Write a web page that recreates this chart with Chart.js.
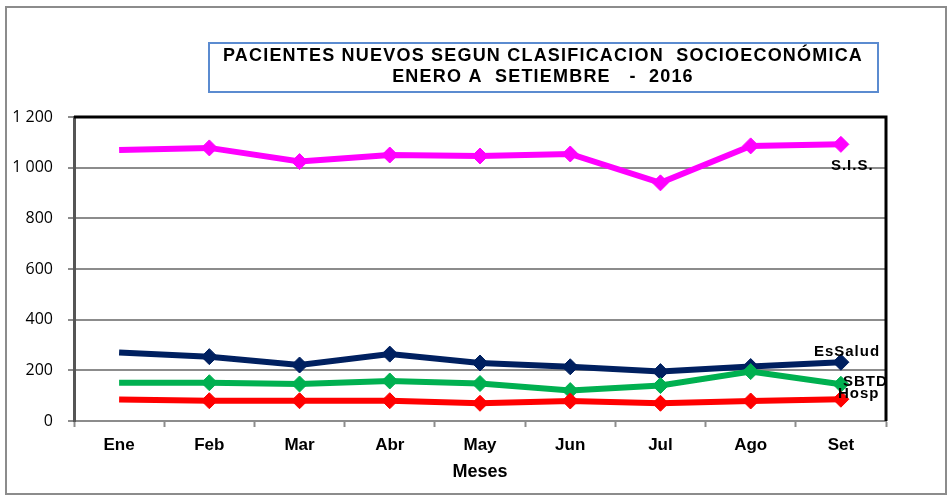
<!DOCTYPE html>
<html>
<head>
<meta charset="utf-8">
<script src="https://cdn.jsdelivr.net/npm/chart.js@4/dist/chart.umd.min.js"></script>
<style>
  body { margin: 0; background: #fff; }
  canvas { display: block; }
</style>
</head>
<body>
<canvas id="myChart" width="949" height="496"></canvas>
<script>
const meses = ['Ene', 'Feb', 'Mar', 'Abr', 'May', 'Jun', 'Jul', 'Ago', 'Set'];
const sis = [1070, 1078, 1024, 1050, 1046, 1054, 940, 1086, 1092];
const essalud = [270, 254, 221, 264, 229, 214, 195, 215, 232];
const sbtd = [151, 151, 146, 158, 148, 120, 140, 195, 145];
const hosp = [85, 80, 80, 80, 70, 79, 70, 79, 86];
const yTicks = [0, 200, 400, 600, 800, 1000, 1200];

// marker on every month but the first
const radios = meses.map((m, i) => i === 0 ? 0 : 8);

function serie(label, data, color, dx, dy) {
    return {
        label: label,
        data: data,
        borderColor: color,
        backgroundColor: color,
        borderWidth: 6,
        pointStyle: 'rectRot',
        pointRadius: radios,
        pointBorderWidth: 1,
        tension: 0,
        endLabel: { dx: dx, dy: dy }
    };
}

const framePlugin = {
    id: 'frame',
    beforeDraw(chart) {
        const ctx = chart.ctx;
        ctx.save();
        ctx.fillStyle = '#fff';
        ctx.fillRect(0, 0, chart.width, chart.height);
        ctx.strokeStyle = '#8c8c8c';
        ctx.lineWidth = 2;
        ctx.strokeRect(6, 7, 940, 487);
        // title box
        ctx.strokeStyle = '#5b8bd0';
        ctx.lineWidth = 2;
        ctx.strokeRect(209, 43, 669, 49);
        ctx.fillStyle = '#000';
        ctx.font = 'bold 18px "Liberation Sans", Arial, sans-serif';
        ctx.letterSpacing = '1.2px';
        ctx.textAlign = 'center';
        ctx.textBaseline = 'middle';
        ctx.fillText('PACIENTES NUEVOS SEGUN CLASIFICACION  SOCIOECONÓMICA', 543, 56);
        ctx.fillText('ENERO A  SETIEMBRE   -  2016', 543, 77);
        ctx.restore();
    },
    afterDatasetsDraw(chart) {
        const ctx = chart.ctx;
        const a = chart.chartArea;
        ctx.save();
        ctx.beginPath();
        ctx.rect(a.left, a.top, a.right - a.left, a.bottom - a.top);
        ctx.clip();
        ctx.fillStyle = '#000';
        ctx.font = 'bold 15px "Liberation Sans", Arial, sans-serif';
        ctx.letterSpacing = '1px';
        ctx.textAlign = 'left';
        ctx.textBaseline = 'middle';
        chart.data.datasets.forEach((ds, i) => {
            const pts = chart.getDatasetMeta(i).data;
            const p = pts[pts.length - 1];
            ctx.fillText(ds.label, p.x + ds.endLabel.dx, p.y + ds.endLabel.dy);
        });
        ctx.restore();
        // black border top and right
        ctx.save();
        ctx.strokeStyle = '#000';
        ctx.lineWidth = 3;
        ctx.beginPath();
        ctx.moveTo(a.left, a.top);
        ctx.lineTo(a.right, a.top);
        ctx.lineTo(a.right, a.bottom);
        ctx.stroke();
        ctx.restore();
    }
};

const ctx = document.getElementById('myChart').getContext('2d');
const myChart = new Chart(ctx, {
    type: 'line',
    data: {
        labels: meses,
        datasets: [
            serie('Hosp', hosp, '#ff0000', -3, -5),
            serie('SBTD', sbtd, '#00b050', 2, -2),
            serie('EsSalud', essalud, '#002060', -27, -10),
            serie('S.I.S.', sis, '#ff00ff', -10, 21)
        ]
    },
    options: {
        responsive: false,
        animation: false,
        layout: { padding: { left: 5, top: 117, right: 63, bottom: 13 } },
        plugins: {
            legend: { display: false },
            title: { display: false },
            tooltip: { enabled: false }
        },
        scales: {
            x: {
                offset: true,
                grid: {
                    offset: true,
                    drawOnChartArea: false,
                    drawTicks: true,
                    tickLength: 6,
                    tickWidth: 2,
                    tickColor: '#8c8c8c'
                },
                border: { color: '#8c8c8c', width: 2 },
                ticks: {
                    color: '#000',
                    padding: 8,
                    maxRotation: 0,
                    font: { family: '"Liberation Sans", Arial, sans-serif', size: 17, weight: 'bold' }
                },
                title: {
                    display: true,
                    text: 'Meses',
                    color: '#000',
                    padding: { top: 4, bottom: 0 },
                    font: { family: '"Liberation Sans", Arial, sans-serif', size: 18, weight: 'bold' }
                },
                afterFit(scale) { scale.height = 62; }
            },
            y: {
                min: 0,
                max: 1200,
                afterBuildTicks(scale) { scale.ticks = yTicks.map(v => ({ value: v })); },
                grid: {
                    color: '#8c8c8c',
                    lineWidth: 2,
                    tickLength: 6
                },
                border: { color: '#555', width: 3 },
                ticks: {
                    color: '#000',
                    padding: 15,
                    font: { family: '"Open Sans", sans-serif', size: 16 },
                    callback: v => String(v).replace(/\B(?=(\d{3})+(?!\d))/g, ' ')
                },
                afterFit(scale) { scale.width = 69; }
            }
        }
    },
    plugins: [framePlugin]
});
</script>
</body>
</html>
